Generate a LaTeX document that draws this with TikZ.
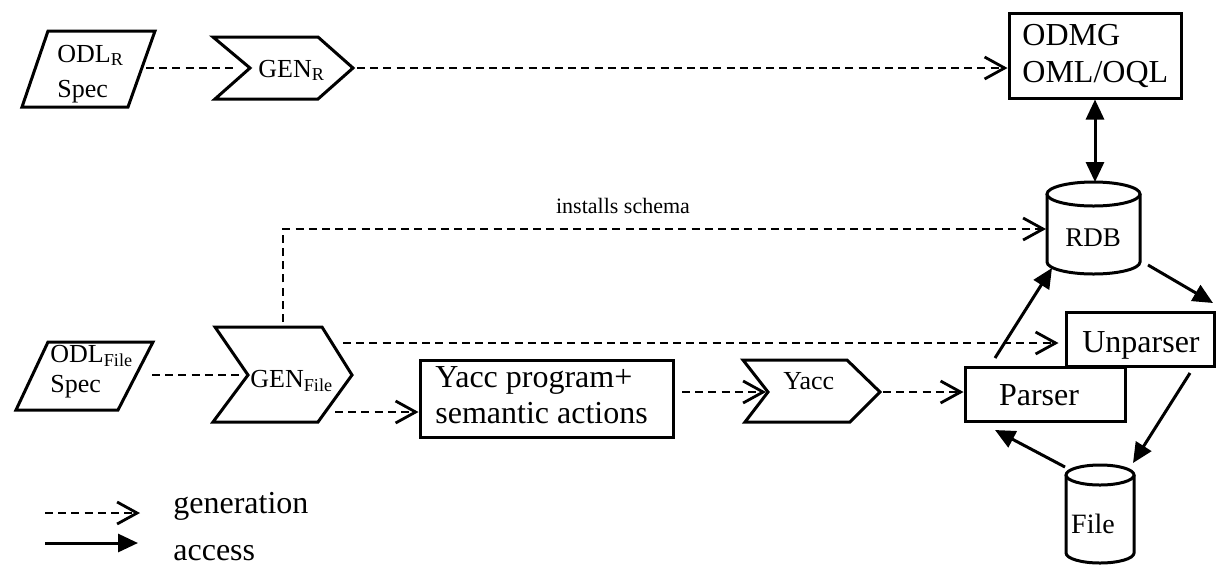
\documentclass[tikz,border=0pt]{standalone}
\usepackage{fontspec}
\setmainfont{Liberation Serif}
\usetikzlibrary{arrows.meta}

\tikzset{
  ln/.style={line width=1.5pt},
  dashln/.style={line width=1.4pt, dash pattern=on 4pt off 2.6pt},
  gen/.style={dashln, -{Straight Barb[length=10pt,width=11pt,line width=1.4pt]}},
  acc/.style={ln, -{Triangle[length=10pt,width=9pt]}},
  accboth/.style={ln, {Triangle[length=10pt,width=9pt]}-{Triangle[length=10pt,width=9pt]}},
  frame/.style={draw, ln, line join=miter, inner sep=0pt},
  shapeln/.style={ln, line join=miter},
  big/.style={font=\fontsize{16}{19}\selectfont, inner sep=0pt},
  small/.style={font=\fontsize{13}{15}\selectfont, inner sep=0pt},
}

\begin{document}
\begin{tikzpicture}[x=0.5pt, y=-0.5pt]
  \fill[white] (0,0) rectangle (1216,564);
  \useasboundingbox (0,0) rectangle (1216,564);

  % ---------- upper row: ODL_R -> GEN_R -> ODMG ----------
  \draw[shapeln] (48,31) -- (155,31) -- (128,107) -- (22,107) -- cycle;
  \node[small, anchor=base west] (odlr-name) at (57,62) {ODL\textsubscript{R}};
  \node[small, anchor=base west] (odlr-spec) at (57,97) {Spec};

  \draw[shapeln] (213,37) -- (318,37) -- (353,68) -- (318,99) -- (215,99) -- (250,68) -- cycle;
  \node[small, anchor=base west] (genr) at (258,77) {GEN\textsubscript{R}};

  \node[frame, minimum width=86pt, minimum height=42.5pt] (odmg) at (1095,55.5) {};
  \node[big, anchor=base west] (odmg-t1) at (1022,45) {ODMG};
  \node[big, anchor=base west] (odmg-t2) at (1022,82) {OML/OQL};

  \coordinate (odlr-out) at (146,68);
  \coordinate (genr-in) at (236,68);
  \coordinate (genr-out) at (357,68);

  % ---------- RDB cylinder ----------
  \draw[ln] (1047,194) -- (1047,262) arc[start angle=180, end angle=360, x radius=23.25pt, y radius=6pt] -- (1140,194);
  \draw[ln, fill=white] (1093.5,194) ellipse [x radius=23.25pt, y radius=6pt];
  \node[font=\fontsize{13.5}{16}\selectfont, inner sep=0pt, anchor=base] (rdb) at (1093,246) {RDB};
  \coordinate (rdb-top) at (1093,182);
  \coordinate (rdb-w) at (1046,229);

  \node[font=\fontsize{11}{13}\selectfont, inner sep=0pt, anchor=base] (installs) at (623,213) {installs schema};

  % ---------- lower row: ODL_File -> GEN_File -> Yacc -> Parser ----------
  \draw[shapeln] (48,342) -- (153,342) -- (118,410) -- (16,410) -- cycle;
  \node[small, anchor=base west] (odlf-name) at (50,362) {ODL\textsubscript{File}};
  \node[small, anchor=base west] (odlf-spec) at (50,392) {Spec};

  \draw[shapeln] (215,327) -- (322,327) -- (352,375) -- (318,422) -- (213,422) -- (248,375) -- cycle;
  \node[small, anchor=base west] (genf) at (250,387) {GEN\textsubscript{File}};

  \node[frame, minimum width=126.5pt, minimum height=38.5pt] (yaccprog) at (546.5,398.5) {};
  \node[big, anchor=base west] (yp-t1) at (435,387) {Yacc program+};
  \node[big, anchor=base west] (yp-t2) at (435,423) {semantic actions};

  \draw[shapeln] (743,360) -- (847,360) -- (880,392) -- (850,422) -- (745,422) -- (768,392) -- cycle;
  \node[small, anchor=base west] (yacc) at (783,389) {Yacc};

  \node[frame, minimum width=74pt, minimum height=27pt] (unparser) at (1140,339) {};
  \node[big, anchor=base] (unparser-t) at (1141,352) {Unparser};
  \node[frame, minimum width=80pt, minimum height=27pt] (parser) at (1045,394) {};
  \node[big, anchor=base] (parser-t) at (1039,405) {Parser};

  % ---------- File cylinder ----------
  \draw[ln] (1066,475) -- (1066,553) arc[start angle=180, end angle=360, x radius=17pt, y radius=5pt] -- (1134,475);
  \draw[ln, fill=white] (1100,475) ellipse [x radius=17pt, y radius=5pt];
  \node[font=\fontsize{14}{16}\selectfont, inner sep=0pt, anchor=base] (file) at (1093,533) {File};

  \coordinate (odlf-out) at (152,375);
  \coordinate (genf-in) at (240,375);
  \coordinate (genf-top) at (283,322);
  \coordinate (genf-out1) at (343,343);
  \coordinate (genf-out2) at (335,412);
  \coordinate (yp-out) at (682,392);
  \coordinate (yacc-in) at (766,392);
  \coordinate (yacc-out) at (883,392);

  % ---------- generation connectors ----------
  \draw[dashln] (odlr-out) -- (genr-in);
  \draw[gen] (genr-out) -- (genr-out -| odmg.west);
  \draw[dashln] (odlf-out) -- (genf-in);
  \draw[gen] (genf-top) |- (rdb-w);
  \draw[gen] (genf-out1) -- ([xshift=-3pt]genf-out1 -| unparser.west);
  \draw[gen] (genf-out2) -- (genf-out2 -| yaccprog.west);
  \draw[gen] (yp-out) -- (yacc-in);
  \draw[gen] (yacc-out) -- (yacc-out -| parser.west);

  % ---------- access connectors ----------
  \coordinate (p-up) at (995,358);
  \coordinate (rdb-sw) at (1052,268);
  \coordinate (rdb-se) at (1148,265);
  \coordinate (up-in) at (1213,303);
  \coordinate (up-out) at (1190,373);
  \coordinate (file-ne) at (1133,463);
  \coordinate (file-nw) at (1065,467);
  \coordinate (p-in) at (995,430);

  \draw[accboth] (odmg.south) -- (odmg.south |- rdb-top);
  \draw[acc] (p-up) -- (rdb-sw);
  \draw[acc] (rdb-se) -- (up-in);
  \draw[acc] (up-out) -- (file-ne);
  \draw[acc] (file-nw) -- (p-in);

  % ---------- legend ----------
  \coordinate (lg1a) at (45,513);
  \coordinate (lg1b) at (140,513);
  \coordinate (lg2a) at (45,543);
  \coordinate (lg2b) at (138,543);
  \draw[gen] (lg1a) -- (lg1b);
  \draw[acc] (lg2a) -- (lg2b);
  \node[big, anchor=base west] (lg-gen) at (173,513) {generation};
  \node[big, anchor=base west] (lg-acc) at (173,560) {access};
\end{tikzpicture}
\end{document}
